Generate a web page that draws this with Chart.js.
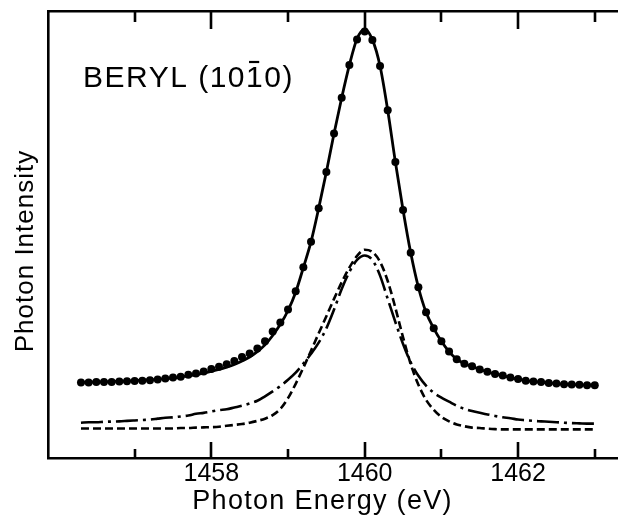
<!DOCTYPE html>
<html>
<head>
<meta charset="utf-8">
<script src="https://cdn.jsdelivr.net/npm/chart.js@4.4.1/dist/chart.umd.min.js"></script>
<style>
  html, body { margin: 0; padding: 0; background: #fff; }
  #wrap { width: 621px; height: 516px; }
</style>
</head>
<body>
<div id="wrap"><canvas id="c" width="621" height="516"></canvas></div>
<script>
// Photon energy grid (eV)
const energy = [
  1456.3,1456.4,1456.5,1456.6,1456.7,1456.8,1456.9,
  1457.0,1457.1,1457.2,1457.3,1457.4,1457.5,1457.6,1457.7,1457.8,1457.9,
  1458.0,1458.1,1458.2,1458.3,1458.4,1458.5,1458.6,1458.7,1458.8,1458.9,
  1459.0,1459.1,1459.2,1459.3,1459.4,1459.5,1459.6,1459.7,1459.8,1459.9,
  1460.0,1460.1,1460.2,1460.3,1460.4,1460.5,1460.6,1460.7,1460.8,1460.9,
  1461.0,1461.1,1461.2,1461.3,1461.4,1461.5,1461.6,1461.7,1461.8,1461.9,
  1462.0,1462.1,1462.2,1462.3,1462.4,1462.5,1462.6,1462.7,1462.8,1462.9,
  1463.0
];
// Measured intensity (dots), arbitrary units
const measured = [
  16.9,16.9,17.0,17.0,17.0,17.1,17.15,
  17.2,17.3,17.4,17.55,17.8,18.0,18.2,18.6,18.9,19.35,
  19.9,20.4,21.0,21.7,22.6,23.4,24.5,26.1,28.3,30.3,
  33.2,37.3,42.7,48.4,55.9,64.0,72.6,80.6,87.9,93.6,
  95.4,93.5,87.7,77.8,66.2,55.5,45.9,38.2,32.6,29.0,
  26.1,23.8,22.1,21.1,20.5,19.8,19.3,18.8,18.45,18.0,
  17.65,17.3,17.1,17.0,16.8,16.65,16.5,16.45,16.4,16.3,
  16.3
];
// Fitted total curve (solid line)
const fitTotal = [
  16.9,16.95,17.0,17.05,17.1,17.15,17.2,
  17.3,17.4,17.5,17.6,17.75,17.9,18.1,18.4,18.6,19.0,
  19.4,19.8,20.3,20.9,21.7,22.6,23.8,25.3,27.4,29.9,
  33.0,37.1,42.6,48.4,55.9,64.0,72.6,80.6,87.9,93.8,
  95.9,93.6,87.7,77.8,66.2,55.5,45.9,38.2,32.6,29.0,
  26.1,23.8,22.1,21.1,20.5,19.8,19.3,18.8,18.45,18.0,
  17.65,17.3,17.1,17.0,16.8,16.65,16.5,16.45,16.4,16.3,
  16.3
];
// Component (dashed)
const dashedComp = [
  6.6,6.6,6.6,6.6,6.6,6.6,6.6,
  6.6,6.6,6.6,6.6,6.6,6.6,6.7,6.7,6.8,6.85,
  6.9,7.0,7.2,7.4,7.6,7.9,8.3,8.8,9.6,11.0,
  13.4,16.6,20.2,24.0,27.9,31.7,35.6,39.3,42.6,45.2,
  46.6,46.1,43.9,39.6,33.6,27.0,21.0,16.4,13.0,10.8,
  9.2,8.2,7.5,7.1,6.8,6.7,6.55,6.45,6.4,6.4,
  6.4,6.4,6.4,6.4,6.4,6.4,6.4,6.4,6.4,6.4,
  6.4
];
// Component (dash-dot)
const dashDotComp = [
  7.9,8.0,8.0,8.1,8.15,8.2,8.3,
  8.4,8.5,8.6,8.8,9.0,9.1,9.3,9.5,9.9,10.1,
  10.4,10.7,10.9,11.3,11.7,12.2,12.8,13.8,14.9,16.1,
  17.5,19.1,21.1,23.3,25.8,29.0,33.2,37.8,41.6,44.3,
  45.3,44.3,40.8,35.6,30.4,25.5,21.4,18.4,16.2,14.6,
  13.5,12.6,11.7,11.0,10.5,10.1,9.75,9.4,9.1,8.9,
  8.6,8.45,8.3,8.2,8.1,8.0,7.9,7.8,7.75,7.7,
  7.7
];
const majorTicks = [1458, 1460, 1462];
const minorTicks = [1457, 1459, 1461, 1463];
const tickLabels = ['1458', '1460', '1462'];
const xTitle = 'Photon Energy (eV)';
const yTitle = 'Photon Intensity';
const sampleName = ['BERYL (10', '1', '0)'];

const pts = arr => energy.map((e, i) => ({ x: e, y: arr[i] }));
const FONT = '"Liberation Sans", Arial, sans-serif';

const decor = {
  id: 'decor',
  afterDraw(chart) {
    const ctx = chart.ctx, xs = chart.scales.x, a = chart.chartArea;
    ctx.save();
    ctx.strokeStyle = '#000';
    ctx.lineWidth = 2.6;
    ctx.lineCap = 'butt';
    const all = majorTicks.concat(minorTicks);
    all.forEach(v => {
      const px = Math.round(xs.getPixelForValue(v));
      const major = majorTicks.includes(v);
      ctx.beginPath();
      ctx.moveTo(px, a.bottom);
      ctx.lineTo(px, a.bottom - (major ? 16 : 9));
      ctx.moveTo(px, a.top);
      ctx.lineTo(px, a.top + (major ? 18 : 11));
      ctx.stroke();
    });
    ctx.fillStyle = '#000';
    // x title
    ctx.font = '27px ' + FONT;
    try { ctx.letterSpacing = '1.3px'; } catch (e) {}
    ctx.textAlign = 'center';
    ctx.textBaseline = 'alphabetic';
    ctx.fillText(xTitle, xs.getPixelForValue(1459.45), 509);
    // y title
    ctx.save();
    ctx.font = '26px ' + FONT;
    try { ctx.letterSpacing = '1px'; } catch (e) {}
    ctx.translate(33, 251);
    ctx.rotate(-Math.PI / 2);
    ctx.fillText(yTitle, 0, 0);
    ctx.restore();
    // sample label
    ctx.font = '30px ' + FONT;
    try { ctx.letterSpacing = '1.5px'; } catch (e) {}
    ctx.textAlign = 'left';
    let x = 83;
    const by = 87;
    ctx.fillText(sampleName[0], x, by);
    x += ctx.measureText(sampleName[0]).width;
    const w1 = ctx.measureText(sampleName[1]).width;
    ctx.fillText(sampleName[1], x, by);
    ctx.lineWidth = 2.2;
    ctx.beginPath();
    ctx.moveTo(x + 3, by - 25);
    ctx.lineTo(x + w1 - 5, by - 25);
    ctx.stroke();
    x += w1;
    ctx.fillText(sampleName[2], x, by);
    ctx.restore();
  }
};

new Chart(document.getElementById('c'), {
  type: 'line',
  data: {
    datasets: [
      { label: 'measured', data: pts(measured), showLine: false,
        pointRadius: 4, pointBackgroundColor: '#000', pointBorderColor: '#000', pointBorderWidth: 0 },
      { label: 'fit', data: pts(fitTotal), borderColor: '#000', borderWidth: 2.8,
        pointRadius: 0, cubicInterpolationMode: 'monotone' },
      { label: 'dash-dot', data: pts(dashDotComp), borderColor: '#000', borderWidth: 2.6,
        borderDash: [22, 5, 3, 5], pointRadius: 0, cubicInterpolationMode: 'monotone' },
      { label: 'dashed', data: pts(dashedComp), borderColor: '#000', borderWidth: 2.6,
        borderDash: [8, 4], pointRadius: 0, cubicInterpolationMode: 'monotone' }
    ]
  },
  options: {
    responsive: false,
    animation: false,
    devicePixelRatio: 1,
    layout: { padding: { left: 48, top: 11, right: 0, bottom: 26 } },
    plugins: { legend: { display: false }, tooltip: { enabled: false } },
    scales: {
      x: {
        type: 'linear', position: 'bottom', min: 1455.87, max: 1463.29,
        afterBuildTicks: s => { s.ticks = majorTicks.map(v => ({ value: v })); },
        ticks: { color: '#000', font: { family: FONT, size: 25 }, padding: 1,
                 maxRotation: 0, autoSkip: false,
                 callback: v => tickLabels[majorTicks.indexOf(v)] ?? '' },
        grid: { display: false, drawTicks: false, tickLength: 0 },
        border: { display: true, color: '#000', width: 2.6 }
      },
      x2: {
        type: 'linear', position: 'top', min: 1455.87, max: 1463.29,
        ticks: { display: false },
        grid: { display: false, drawTicks: false, tickLength: 0 },
        border: { display: true, color: '#000', width: 2.6 }
      },
      y: {
        min: 0, max: 100,
        ticks: { display: false },
        grid: { display: false, drawTicks: false, tickLength: 0 },
        border: { display: true, color: '#000', width: 2.6 }
      }
    }
  },
  plugins: [decor]
});
</script>
</body>
</html>
